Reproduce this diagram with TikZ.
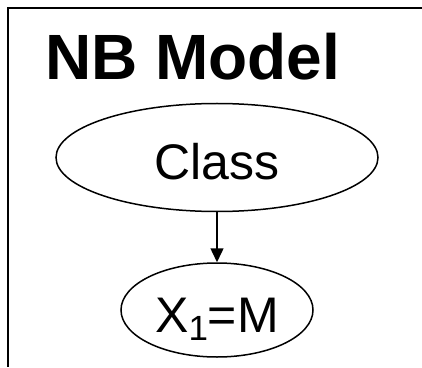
\documentclass[tikz,border=0pt]{standalone}
\usepackage{fontspec}
\setmainfont{Liberation Sans}
\usetikzlibrary{arrows.meta,shapes.geometric}
\definecolor{LineClr}{rgb}{0,0,0}

\begin{document}
\begin{tikzpicture}[x=1pt,y=1pt,
  VarNode/.style={draw=LineClr,ellipse,line width=1.5pt,inner sep=0pt,
    font=\fontsize{50}{50}\selectfont,text height=48pt,text depth=3pt},
  EdgeArrow/.style={draw=LineClr,line width=1.5pt,-{Triangle[length=14pt,width=13pt]}}]
\useasboundingbox (0,0) rectangle (422,367);

\draw[draw=LineClr,line width=2pt] (422,359.3) -| (8,0);

\node[anchor=base west,inner sep=0pt,font=\bfseries\fontsize{64}{64}\selectfont] (title) at (45,287) {NB Model};

\node[VarNode,minimum width=322pt,minimum height=108pt] (class) at (217,209.5) {Class};
\node[VarNode,minimum width=192pt,minimum height=94pt] (x1) at (217,57) {X\raisebox{-8pt}{\fontsize{35}{35}\selectfont 1}=M};

\draw[EdgeArrow] (class) -- (x1);

\end{tikzpicture}
\end{document}
